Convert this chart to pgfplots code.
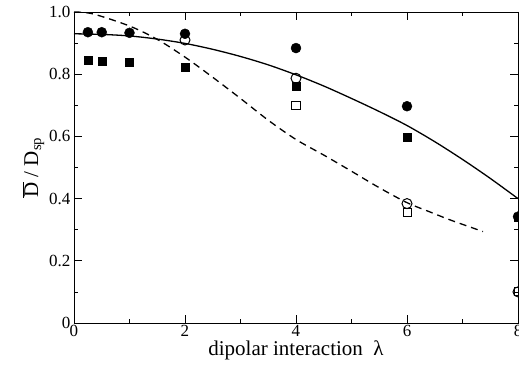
\documentclass[border=0pt]{standalone}
\usepackage{fontspec}
\setmainfont{Liberation Serif}
\usepackage{pgfplots}
\pgfplotsset{compat=1.18}
\usetikzlibrary{calc}
\begin{document}
\begin{tikzpicture}
\begin{axis}[
  scale only axis,
  width=444pt, height=311pt,
  xmin=0, xmax=8, ymin=0, ymax=1,
  xtick={0,2,4,6,8},
  minor xtick={1,3,5,7},
  ytick={0,0.2,0.4,0.6,0.8,1.0},
  yticklabels={0,0.2,0.4,0.6,0.8,1.0},
  minor ytick={0.1,0.3,0.5,0.7,0.9},
  tick align=inside,
  major tick length=8pt,
  minor tick length=4pt,
  tick style={black, line width=0.8pt},
  axis line style={line width=0.8pt},
  /pgf/number format/assume math mode=true,
  tick label style={font=\fontsize{17}{19}\selectfont},
  xticklabel style={yshift=1pt},
  xlabel={dipolar interaction\ \ λ},
  ylabel={$\overline{\hbox{D}}$ / D\textsubscript{sp}},
  label style={font=\fontsize{21}{23}\selectfont},
  xlabel style={yshift=3pt},
  ylabel style={yshift=-2pt},
  clip=false,
]
\path (rel axis cs:0,0) coordinate (SW);
\path (rel axis cs:1,1) coordinate (NE);
% solid line
\addplot[black, line width=1.3pt, smooth] coordinates {
(0,0.930)(0.5,0.928)(1,0.923)(1.5,0.913)(2,0.899)(2.5,0.880)(3,0.857)(3.5,0.830)(4,0.798)(4.5,0.762)(5,0.722)(5.5,0.680)(6,0.635)(6.5,0.583)(7,0.526)(7.5,0.465)(8,0.400)};
% dashed line
\addplot[black, line width=1.3pt, dash pattern=on 7pt off 5pt, smooth] coordinates {
(0,1.0)(0.34,0.994)(1,0.955)(1.5,0.912)(2,0.855)(2.5,0.79)(3,0.722)(3.5,0.652)(4,0.590)(4.5,0.540)(5,0.488)(5.5,0.435)(6,0.387)(6.4,0.358)(6.8,0.330)(7.37,0.294)};
% filled squares
\addplot[only marks, mark=square*, mark size=4pt, black] coordinates {
(0.25,0.845)(0.5,0.842)(1,0.839)(2,0.823)(4,0.761)(6,0.597)(8,0.34)};
% filled circles
\addplot[only marks, mark=*, mark size=5pt, black] coordinates {
(0.25,0.935)(0.5,0.935)(1,0.933)(2,0.93)(4,0.884)(6,0.697)(8,0.342)};
% open squares
\addplot[only marks, mark=square, mark size=4pt, black, mark options={line width=1pt, fill=white}] coordinates {
(4,0.70)(6,0.355)(8,0.10)};
% open circles
\addplot[only marks, mark=o, mark size=5pt, black, mark options={line width=1pt, fill=white}] coordinates {
(2,0.91)(4,0.787)(6,0.384)(8,0.10)};
\end{axis}
\pgfresetboundingbox
\path[use as bounding box] ($(SW)+(-74pt,-47pt)$) rectangle ($(NE)+(1pt,12pt)$);
\end{tikzpicture}
\end{document}
